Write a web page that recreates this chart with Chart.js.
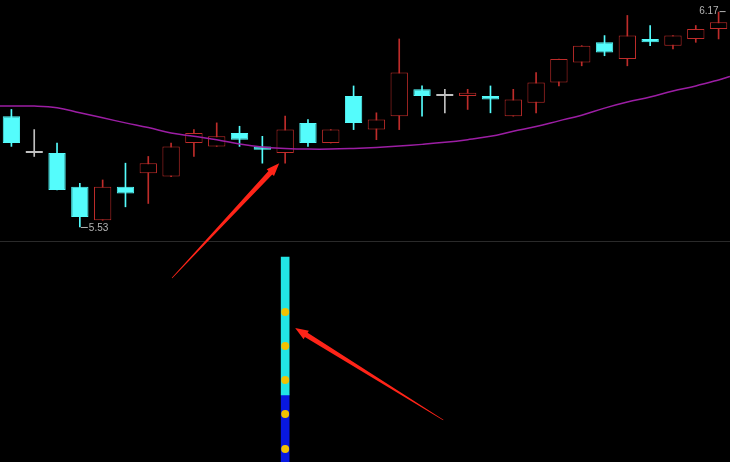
<!DOCTYPE html>
<html lang="zh-CN">
<head>
<meta charset="UTF-8">
<title>K线图</title>
<script src="https://cdn.jsdelivr.net/npm/chart.js"></script>
<style>
  html, body { margin: 0; padding: 0; background: #000; }
  canvas { display: block; }
</style>
</head>
<body>
<canvas id="kChart" width="730" height="462"></canvas>
<script>
// K线数据
const labels = ['1','2','3','4','5','6','7','8','9','10','11','12','13','14','15','16',
                '17','18','19','20','21','22','23','24','25','26','27','28','29','30','31','32'];
const opens  = [5.86,5.75,5.75,5.65,5.55,5.65,5.69,5.68,5.78,5.77,5.81,5.77,5.75,5.84,5.78,5.92,
                5.82,5.86,5.94,5.92,5.92,5.92,5.86,5.90,5.96,6.02,6.08,6.03,6.09,6.07,6.09,6.12];
const highs  = [5.88,5.82,5.78,5.66,5.67,5.72,5.74,5.78,5.82,5.84,5.83,5.80,5.86,5.85,5.82,5.95,
                5.87,6.09,5.95,5.94,5.94,5.95,5.94,5.99,6.03,6.07,6.10,6.16,6.13,6.10,6.13,6.17];
const lows   = [5.77,5.74,5.64,5.53,5.55,5.59,5.60,5.68,5.74,5.77,5.77,5.72,5.72,5.77,5.78,5.82,
                5.79,5.82,5.86,5.87,5.88,5.87,5.86,5.87,5.95,6.01,6.04,6.01,6.07,6.06,6.08,6.09];
const closes = [5.78,5.75,5.64,5.56,5.65,5.63,5.72,5.77,5.81,5.80,5.79,5.76,5.82,5.78,5.82,5.84,
                5.85,5.99,5.92,5.92,5.93,5.91,5.91,5.96,6.03,6.07,6.05,6.10,6.08,6.10,6.12,6.14];
// 均线（含左右两端延伸到边缘的值）
const ma = [5.89,5.89,5.885,5.87,5.855,5.84,5.826,5.81,5.80,5.79,5.777,5.768,5.764,5.762,5.762,5.764,
            5.767,5.771,5.776,5.782,5.79,5.80,5.815,5.829,5.846,5.863,5.884,5.902,5.917,5.935,5.95,5.968];
const maLeftEdge = 5.89;
const maRightEdge = 5.978;

// 下方指标柱
const signalIndex = 12;
const signalCyan = [30.5, 93.2];
const signalBlue = [0, 30.5];
const signalDots = [68.2, 52.7, 37.3, 21.8, 5.9];

const UP = '#be2c2a', DOWN = '#54fcfc', FLAT = '#c0c0c0';
const candleColor = opens.map((o, i) => closes[i] > o ? UP : (closes[i] < o ? DOWN : FLAT));
const bodyFill = opens.map((o, i) => closes[i] > o ? '#000' : candleColor[i]);

const pickAt = v => labels.map((l, i) => i === signalIndex ? v : null);
const maPoints = [{ x: -0.5, y: maLeftEdge }]
  .concat(ma.map((v, i) => ({ x: i, y: v })))
  .concat([{ x: labels.length - 0.5, y: maRightEdge }]);

// 分隔线、最高最低标注、箭头
const overlay = {
  id: 'overlay',
  beforeDatasetsDraw(chart) {
    const ctx = chart.ctx, y2 = chart.scales.y2;
    const y = Math.round(y2.getPixelForValue(100.5)) + 0.5;
    ctx.save();
    ctx.strokeStyle = '#2a2a2a';
    ctx.lineWidth = 1;
    ctx.beginPath();
    ctx.moveTo(0, y);
    ctx.lineTo(chart.width, y);
    ctx.stroke();
    ctx.restore();
  },
  afterDraw(chart) {
    const ctx = chart.ctx, xs = chart.scales.x, ys = chart.scales.y, y2 = chart.scales.y2;
    ctx.save();
    ctx.font = '10px "Liberation Sans", Arial, sans-serif';
    ctx.fillStyle = '#b4b4b4';
    ctx.strokeStyle = '#b4b4b4';
    ctx.lineWidth = 1;

    const lo = Math.min(...lows), li = lows.indexOf(lo);
    let px = xs.getPixelForValue(li), py = ys.getPixelForValue(lo);
    ctx.beginPath();
    ctx.moveTo(px + 1, py + 0.5);
    ctx.lineTo(px + 8, py + 0.5);
    ctx.stroke();
    ctx.textBaseline = 'middle';
    ctx.textAlign = 'left';
    ctx.fillText(lo.toFixed(2), px + 9, py + 1);

    const hi = Math.max(...highs), hiI = highs.indexOf(hi);
    px = xs.getPixelForValue(hiI); py = ys.getPixelForValue(hi);
    ctx.textAlign = 'right';
    ctx.fillText(hi.toFixed(2), px, py - 1);
    ctx.beginPath();
    ctx.moveTo(px + 1, py - 0.5);
    ctx.lineTo(px + 7, py - 0.5);
    ctx.stroke();

    // 红色箭头
    ctx.fillStyle = '#ff2418';
    drawArrow(ctx, xs.getPixelForValue(7.04), ys.getPixelForValue(5.378),
                   xs.getPixelForValue(11.74), ys.getPixelForValue(5.72));
    drawArrow(ctx, xs.getPixelForValue(18.93), y2.getPixelForValue(19.1),
                   xs.getPixelForValue(12.44), y2.getPixelForValue(60.9));
    ctx.restore();
  }
};

function drawArrow(ctx, x1, y1, x2, y2) {
  const dx = x2 - x1, dy = y2 - y1, len = Math.hypot(dx, dy);
  const ux = dx / len, uy = dy / len, nx = -uy, ny = ux;
  const head = 13, hw = 5, sw = 2.6, tw = 0.3;
  const bx = x2 - ux * head, by = y2 - uy * head;
  ctx.beginPath();
  ctx.moveTo(x1 + nx * tw, y1 + ny * tw);
  ctx.lineTo(bx + nx * sw, by + ny * sw);
  ctx.lineTo(bx + nx * hw, by + ny * hw);
  ctx.lineTo(x2, y2);
  ctx.lineTo(bx - nx * hw, by - ny * hw);
  ctx.lineTo(bx - nx * sw, by - ny * sw);
  ctx.lineTo(x1 - nx * tw, y1 - ny * tw);
  ctx.closePath();
  ctx.fill();
}

new Chart(document.getElementById('kChart'), {
  data: {
    labels: labels,
    datasets: [
      {
        type: 'line', data: maPoints, xAxisID: 'x2', yAxisID: 'y',
        borderColor: '#9c1ea4', borderWidth: 1.5, pointRadius: 0, tension: 0.4, order: -1
      },
      {
        type: 'bar', data: opens.map((o, i) => [o, closes[i]]), yAxisID: 'y',
        backgroundColor: bodyFill, borderColor: candleColor, borderWidth: 1, borderSkipped: false,
        barPercentage: 0.76, categoryPercentage: 1, grouped: false, minBarLength: 2, order: 0
      },
      {
        type: 'bar', data: lows.map((l, i) => [l, highs[i]]), yAxisID: 'y',
        backgroundColor: candleColor, borderWidth: 0, barThickness: 1, grouped: false, order: 1
      },
      {
        type: 'bar', data: pickAt(signalCyan), yAxisID: 'y2',
        backgroundColor: '#22e4e4', borderWidth: 0, barThickness: 8, grouped: false, order: 1
      },
      {
        type: 'bar', data: pickAt(signalBlue), yAxisID: 'y2',
        backgroundColor: '#0818e0', borderWidth: 0, barThickness: 8, grouped: false, order: 1
      },
      {
        type: 'line', data: signalDots.map(v => ({ x: labels[signalIndex], y: v })), yAxisID: 'y2',
        showLine: false, pointRadius: 4, pointBackgroundColor: '#f2c200', pointBorderWidth: 0, order: -2
      }
    ]
  },
  options: {
    responsive: false,
    animation: false,
    layout: { padding: 0, autoPadding: false },
    plugins: { legend: { display: false }, tooltip: { enabled: false } },
    scales: {
      x: { type: 'category', offset: true, display: false },
      x2: { type: 'linear', min: -0.5, max: labels.length - 0.5, display: false },
      y: { display: false, min: 4.83, max: 6.206 },
      y2: { display: false, min: 0, max: 210 }
    }
  },
  plugins: [overlay]
});
</script>
</body>
</html>
